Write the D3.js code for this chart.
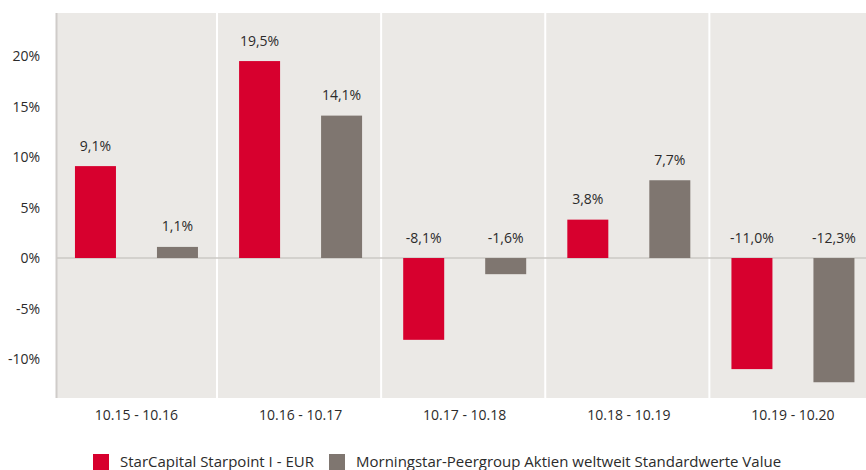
<!DOCTYPE html>
<html>
<head>
<meta charset="utf-8">
<script src="https://cdn.jsdelivr.net/npm/d3@7"></script>
<style>
  body { margin: 0; background: #fff; }
  text { font-family: "Open Sans", sans-serif; fill: #2b2b2b; }
</style>
</head>
<body>
<div id="chart-area"></div>
<script>
// Daten
const periods = ["10.15 - 10.16", "10.16 - 10.17", "10.17 - 10.18", "10.18 - 10.19", "10.19 - 10.20"];
const seriesNames = ["StarCapital Starpoint I - EUR", "Morningstar-Peergroup Aktien weltweit Standardwerte Value"];
const fundValues = [9.1, 19.5, -8.1, 3.8, -11.0];
const peerValues = [1.1, 14.1, -1.6, 7.7, -12.3];
const yTicks = [-10, -5, 0, 5, 10, 15, 20];
const colors = ["#d7002e", "#7f7670"];

const width = 866;
const height = 470;
const plot = {left: 57, right: 866, top: 13, bottom: 398};

const svg = d3.select("#chart-area")
  .append("svg")
  .attr("width", width)
  .attr("height", height);

// Skalen
const x = d3.scaleBand().domain(periods).range([54.4, 875]).padding(0);
const xInner = d3.scalePoint().domain([0, 1]).range([-41, 41]);
const barWidth = 41;
const y = d3.scaleLinear().domain([-13.86, 24.26]).range([plot.bottom, plot.top]);

// Hintergrund
svg.append("rect")
  .attr("x", plot.left)
  .attr("y", plot.top)
  .attr("width", plot.right - plot.left)
  .attr("height", plot.bottom - plot.top)
  .attr("fill", "#ebe9e6");

// Trennlinien
svg.selectAll(".sep")
  .data(periods.slice(1))
  .enter().append("line")
  .attr("class", "sep")
  .attr("x1", d => x(d) - 1.5)
  .attr("x2", d => x(d) - 1.5)
  .attr("y1", plot.top)
  .attr("y2", plot.bottom)
  .attr("stroke", "#fff")
  .attr("stroke-width", 2);

// linke Achse
svg.append("line")
  .attr("x1", plot.left - 0.5).attr("x2", plot.left - 0.5)
  .attr("y1", plot.top).attr("y2", plot.bottom)
  .attr("stroke", "#cfccc9")
  .attr("stroke-width", 2);

// Nulllinie
svg.append("line")
  .attr("x1", plot.left).attr("x2", plot.right)
  .attr("y1", y(0)).attr("y2", y(0))
  .attr("stroke", "#cbc8c5")
  .attr("stroke-width", 1.5);

// Balken
const rows = periods.map((p, i) => ({period: p, values: [fundValues[i], peerValues[i]]}));

const groups = svg.selectAll(".group")
  .data(rows)
  .enter().append("g")
  .attr("class", "group")
  .attr("transform", d => `translate(${x(d.period) + x.bandwidth() / 2},0)`);

groups.selectAll("rect")
  .data(d => d.values.map((v, s) => ({v, s})))
  .enter().append("rect")
  .attr("x", d => xInner(d.s) - barWidth / 2)
  .attr("y", d => y(Math.max(0, d.v)))
  .attr("width", barWidth)
  .attr("height", d => Math.abs(y(d.v) - y(0)))
  .attr("fill", d => colors[d.s]);

const fmt = v => v.toFixed(1).replace(".", ",") + "%";

groups.selectAll(".val")
  .data(d => d.values.map((v, s) => ({v, s})))
  .enter().append("text")
  .attr("class", "val")
  .attr("x", d => xInner(d.s))
  .attr("y", d => Math.min(y(d.v), y(0)) - 15.5)
  .attr("text-anchor", "middle")
  .attr("font-size", "14px")
  .text(d => fmt(d.v));

// Y-Achse Beschriftung
svg.selectAll(".ytick")
  .data(yTicks)
  .enter().append("text")
  .attr("class", "ytick")
  .attr("x", 40)
  .attr("y", d => y(d) + 5)
  .attr("text-anchor", "end")
  .attr("font-size", "14px")
  .text(d => d + "%");

// X-Achse Beschriftung
svg.selectAll(".xtick")
  .data(periods)
  .enter().append("text")
  .attr("class", "xtick")
  .attr("x", d => x(d) + x.bandwidth() / 2)
  .attr("y", 420)
  .attr("text-anchor", "middle")
  .attr("font-size", "14px")
  .text(d => d);

// Legende
const legend = svg.append("g");
const legendX = [93, 329];
seriesNames.forEach((name, i) => {
  const row = legend.append("g").attr("transform", `translate(${legendX[i]}, 454)`);
  row.append("rect")
    .attr("width", 16)
    .attr("height", 16)
    .attr("fill", colors[i]);
  row.append("text")
    .attr("x", 27)
    .attr("y", 12.5)
    .attr("font-size", "15px")
    .text(name);
});
</script>
</body>
</html>
